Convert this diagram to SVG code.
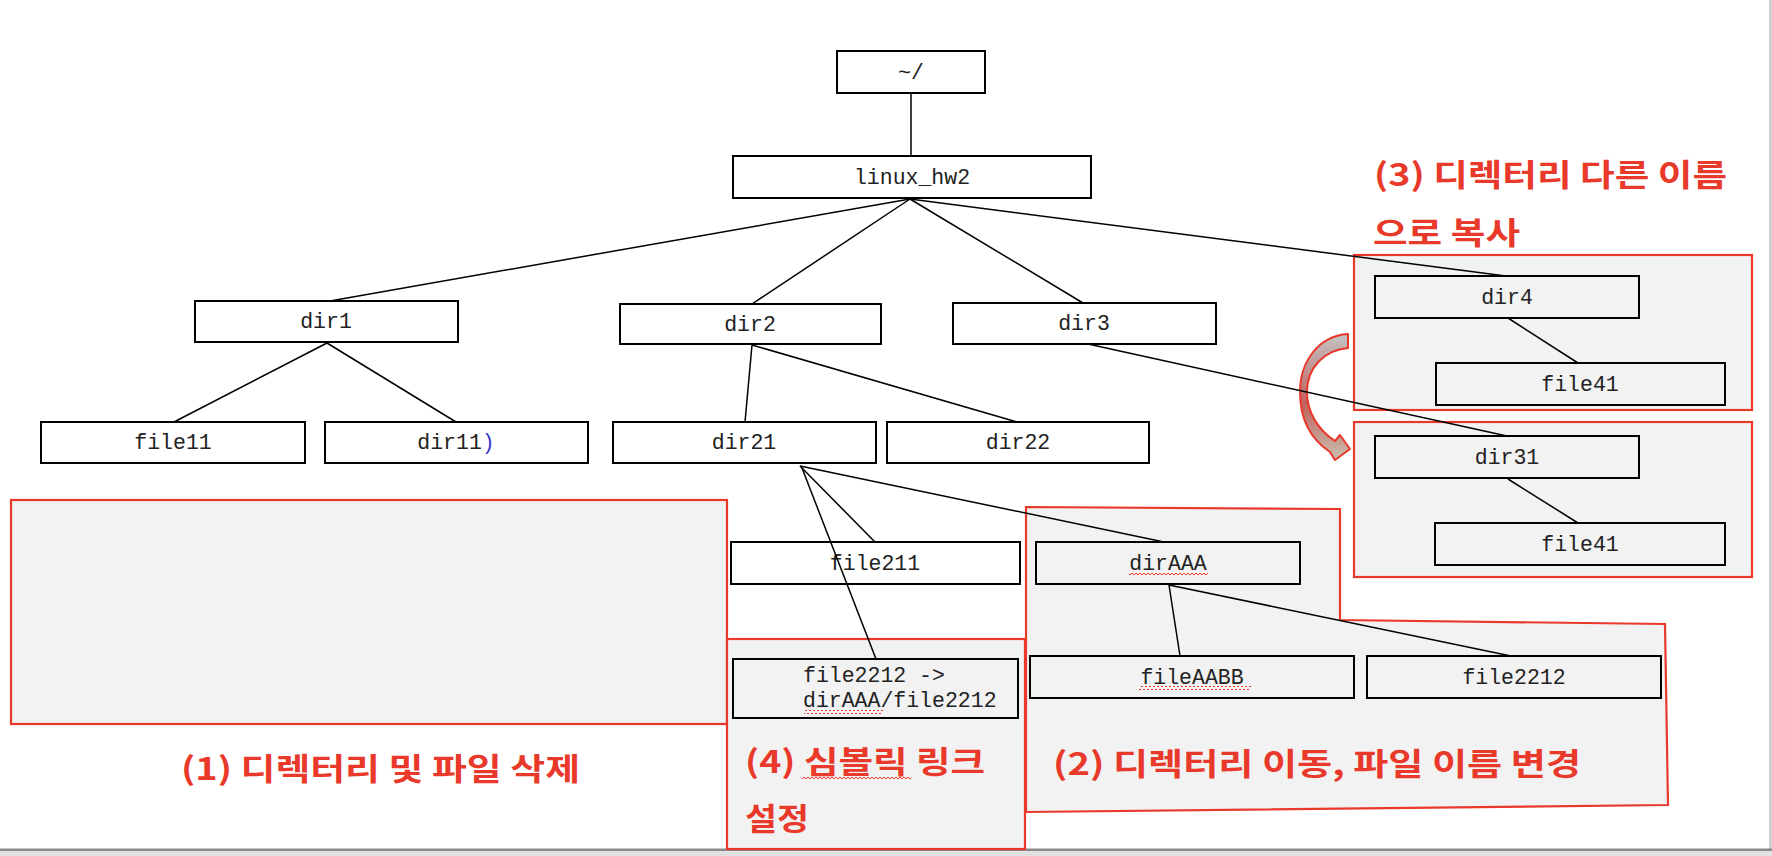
<svg xmlns="http://www.w3.org/2000/svg" width="1772" height="856" viewBox="0 0 1772 856">
<style>
.node rect{fill:#ffffff;stroke:#000;stroke-width:2}
.node.g rect{fill:#f2f2f2}
.node text{font-family:"Liberation Mono","Courier New",monospace;font-size:21.5px;fill:#222;text-anchor:middle}
.region{fill:#f2f2f2;stroke:#e8392b;stroke-width:2.2}
.lbl{font-family:"Noto Sans CJK KR","Noto Sans",sans-serif;font-weight:bold;font-size:31px;fill:#e8392b}
#connectors line{stroke:#000;stroke-width:1.5;fill:none}
.sq, .node .sq, .node.g .sq{fill:url(#sq);stroke:none}
</style>
<defs>
<pattern id="sq" width="4" height="4" patternUnits="userSpaceOnUse">
<path d="M0,1 L2,3 L4,1" fill="none" stroke="#e8392b" stroke-width="1"/>
</pattern>
<linearGradient id="arrowGrad" x1="0" y1="0" x2="0" y2="1">
<stop offset="0" stop-color="#c4c4c4"/>
<stop offset="0.55" stop-color="#c0625c"/>
<stop offset="1" stop-color="#c9c0b0"/>
</linearGradient>
</defs>
<rect x="0" y="0" width="1772" height="856" fill="#ffffff"/>
<rect x="1769" y="0" width="3" height="849" fill="#d0d0d0"/>
<rect x="0" y="851" width="1772" height="5" fill="#e2e2e2"/>
<rect x="0" y="848.5" width="1772" height="2.5" fill="#8a8a8a"/>

<g id="region1"><rect class="region" x="11" y="500" width="716" height="224"/></g>
<g id="region4"><rect class="region" x="727" y="639" width="298" height="210"/></g>
<g id="region2"><polygon class="region" points="1026,507 1340,509 1340,620 1665,624 1668,805 1026,812"/></g>
<g id="region3a"><rect class="region" x="1354" y="255" width="398" height="155"/></g>
<g id="region3b"><rect class="region" x="1354" y="422" width="398" height="155"/></g>

<g id="copy-arrow">
<path d="M1348,334 C1318,336 1300,362 1300,392 C1300,420 1312,440 1330,452 L1335,460 L1350,449 L1340,435 L1335,441 C1318,430 1307,412 1307,392 C1307,368 1324,350 1348,348 Z" fill="url(#arrowGrad)" stroke="#e8392b" stroke-width="2" stroke-linejoin="round"/>
</g>

<g id="n-home" class="node"><rect x="837" y="51" width="148" height="42"/><text x="911" y="79">~/</text></g>
<g id="n-linux_hw2" class="node"><rect x="733" y="156" width="358" height="42"/><text x="912" y="184">linux_hw2</text></g>
<g id="n-dir1" class="node"><rect x="195" y="301" width="263" height="41"/><text x="326" y="328">dir1</text></g>
<g id="n-dir2" class="node"><rect x="620" y="304" width="261" height="40"/><text x="750" y="331">dir2</text></g>
<g id="n-dir3" class="node"><rect x="953" y="303" width="263" height="41"/><text x="1084" y="330">dir3</text></g>
<g id="n-dir4" class="node g"><rect x="1375" y="276" width="264" height="42"/><text x="1507" y="304">dir4</text></g>
<g id="n-file41a" class="node g"><rect x="1436" y="363" width="289" height="42"/><text x="1580" y="391">file41</text></g>
<g id="n-file11" class="node"><rect x="41" y="422" width="264" height="41"/><text x="173" y="449">file11</text></g>
<g id="n-dir11" class="node"><rect x="325" y="422" width="263" height="41"/><text x="456" y="449">dir11<tspan fill="#3a3acc">)</tspan></text></g>
<g id="n-dir21" class="node"><rect x="613" y="422" width="263" height="41"/><text x="744" y="449">dir21</text></g>
<g id="n-dir22" class="node"><rect x="887" y="422" width="262" height="41"/><text x="1018" y="449">dir22</text></g>
<g id="n-dir31" class="node g"><rect x="1375" y="436" width="264" height="42"/><text x="1507" y="464">dir31</text></g>
<g id="n-file41b" class="node g"><rect x="1435" y="523" width="290" height="42"/><text x="1580" y="551">file41</text></g>
<g id="n-file211" class="node"><rect x="731" y="542" width="289" height="42"/><text x="875" y="570">file211</text></g>
<g id="n-link" class="node g"><rect x="733" y="659" width="285" height="59"/><text x="803" y="682" style="text-anchor:start">file2212 -&gt;</text><text x="803" y="707" style="text-anchor:start">dirAAA/file2212</text><rect class="sq" x="804" y="710" width="79" height="4"/></g>
<g id="n-dirAAA" class="node g"><rect x="1036" y="542" width="264" height="42"/><text x="1168" y="570">dirAAA</text><rect class="sq" x="1129" y="572" width="79" height="4"/></g>
<g id="n-fileAABB" class="node g"><rect x="1030" y="656" width="324" height="42"/><text x="1192" y="684">fileAABB</text><rect class="sq" x="1139" y="686" width="112" height="4"/></g>
<g id="n-file2212" class="node g"><rect x="1367" y="656" width="294" height="42"/><text x="1514" y="684">file2212</text></g>

<g id="connectors">
<line x1="911" y1="93" x2="911" y2="156"/>
<line x1="910" y1="199" x2="330" y2="301"/>
<line x1="910" y1="199" x2="752" y2="304"/>
<line x1="910" y1="199" x2="1083" y2="303"/>
<line x1="910" y1="199" x2="1506" y2="276"/>
<line x1="327" y1="343" x2="174" y2="422"/>
<line x1="327" y1="343" x2="456" y2="422"/>
<line x1="752" y1="345" x2="745" y2="422"/>
<line x1="752" y1="345" x2="1017" y2="422"/>
<line x1="1088" y1="344" x2="1507" y2="436"/>
<line x1="1508" y1="318" x2="1578" y2="363"/>
<line x1="1508" y1="479" x2="1578" y2="523"/>
<line x1="800" y1="466" x2="875" y2="542"/>
<line x1="802" y1="468" x2="876" y2="659"/>
<line x1="800" y1="466" x2="1164" y2="542"/>
<line x1="1169" y1="585" x2="1180" y2="656"/>
<line x1="1169" y1="585" x2="1511" y2="656"/>
</g>

<g id="labels">
<text class="lbl" x="1374" y="186" textLength="353" lengthAdjust="spacingAndGlyphs">(3) 디렉터리 다른 이름</text>
<text class="lbl" x="1373" y="244" textLength="147" lengthAdjust="spacingAndGlyphs">으로 복사</text>
<text class="lbl" x="181" y="780" textLength="399" lengthAdjust="spacingAndGlyphs">(1) 디렉터리 및 파일 삭제</text>
<text class="lbl" x="1053" y="775" textLength="528" lengthAdjust="spacingAndGlyphs">(2) 디렉터리 이동, 파일 이름 변경</text>
<text class="lbl" x="745" y="773" textLength="240" lengthAdjust="spacingAndGlyphs">(4) 심볼릭 링크</text>
<text class="lbl" x="745" y="830" textLength="64" lengthAdjust="spacingAndGlyphs">설정</text>
<rect class="sq" x="802" y="777" width="109" height="4"/>
</g>
</svg>
